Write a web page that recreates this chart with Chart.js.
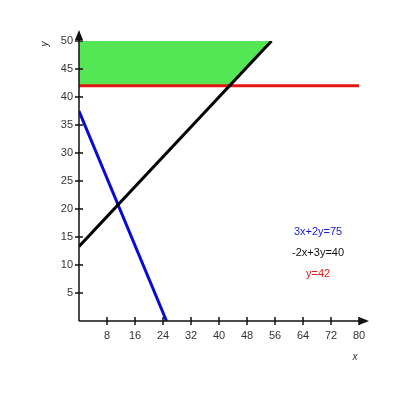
<!DOCTYPE html>
<html><head><meta charset="utf-8">
<script src="https://cdn.jsdelivr.net/npm/chart.js@4/dist/chart.umd.min.js"></script>
<style>html,body{margin:0;padding:0;background:#fff}#wrap{width:400px;height:400px}</style>
</head><body><div id="wrap"><canvas id="c" width="400" height="400"></canvas></div>
<script>
const xTicks = [8,16,24,32,40,48,56,64,72,80];
const yTicks = [5,10,15,20,25,30,35,40,45,50];
// line endpoints (x, y) for each equation
const blueX = [0, 25];      const blueY = [37.5, 0];       // 3x+2y=75
const blackX = [0, 55];     const blackY = [13.33, 50];    // -2x+3y=40
const redX = [0, 80];       const redY = [42, 42];         // y=42
const greenX = [0, 43, 55, 0]; const greenY = [42, 42, 50, 50]; // feasible region
const labels = ['3x+2y=75', '-2x+3y=40', 'y=42'];
const labelColors = ['#1a1ad8', '#111111', '#e01818'];
const labelX = [68.3, 68.3, 68.3];
const labelY = [15.9, 12.1, 8.4];

const pts = (xs, ys) => xs.map((x, i) => ({x, y: ys[i]}));

const axesPlugin = {
  id: 'axes',
  afterDatasetsDraw(chart) {
    const ctx = chart.ctx, xs = chart.scales.x, ys = chart.scales.y;
    const x0 = xs.getPixelForValue(0), y0 = ys.getPixelForValue(0);
    const xEnd = xs.getPixelForValue(80), yTop = ys.getPixelForValue(50);
    ctx.save();
    ctx.strokeStyle = '#111'; ctx.fillStyle = '#111'; ctx.lineWidth = 1.5;
    ctx.beginPath();
    ctx.moveTo(x0, y0); ctx.lineTo(xEnd + 2, y0);
    ctx.moveTo(x0, y0); ctx.lineTo(x0, yTop - 2);
    xTicks.forEach(v => { const p = xs.getPixelForValue(v); ctx.moveTo(p, y0 - 4); ctx.lineTo(p, y0 + 4); });
    yTicks.forEach(v => { const p = ys.getPixelForValue(v); ctx.moveTo(x0 - 4, p); ctx.lineTo(x0 + 4, p); });
    ctx.stroke();
    // arrows
    ctx.beginPath();
    ctx.moveTo(x0, yTop - 11); ctx.lineTo(x0 - 4, yTop - 1); ctx.lineTo(x0 + 4, yTop - 1); ctx.closePath();
    ctx.moveTo(xEnd + 10, y0); ctx.lineTo(xEnd, y0 - 4); ctx.lineTo(xEnd, y0 + 4); ctx.closePath();
    ctx.fill();
    // axis titles
    ctx.fillStyle = '#333';
    ctx.font = 'italic 10px "Liberation Sans", Arial, sans-serif';
    ctx.textAlign = 'center'; ctx.textBaseline = 'middle';
    ctx.fillText('x', xEnd - 4, y0 + 36);
    ctx.translate(x0 - 34, yTop + 3); ctx.rotate(-Math.PI / 2);
    ctx.fillText('y', 0, 0);
    ctx.restore();
    // equation labels
    ctx.save();
    ctx.font = '11px "Liberation Sans", Arial, sans-serif';
    ctx.textAlign = 'center'; ctx.textBaseline = 'middle';
    labels.forEach((t, i) => {
      ctx.fillStyle = labelColors[i];
      ctx.fillText(t, xs.getPixelForValue(labelX[i]), ys.getPixelForValue(labelY[i]));
    });
    ctx.restore();
  }
};

const tickFont = {family: '"Liberation Sans", Arial, sans-serif', size: 11};
new Chart(document.getElementById('c'), {
  type: 'scatter',
  data: {
    datasets: [
      {data: pts(blackX, blackY), showLine: true, borderColor: '#000', borderWidth: 3, pointRadius: 0},
      {data: pts(blueX, blueY), showLine: true, borderColor: '#0a0ad8', borderWidth: 3, pointRadius: 0},
      {data: pts(redX, redY), showLine: true, borderColor: '#e41414', borderWidth: 3, pointRadius: 0},
      {data: pts(greenX, greenY), showLine: true, borderWidth: 0, borderColor: 'rgba(0,0,0,0)', backgroundColor: '#55e655', fill: 'shape', pointRadius: 0}
    ]
  },
  options: {
    responsive: false, animation: false,
    layout: {padding: {left: 0, top: 41, right: 41, bottom: 0}},
    plugins: {legend: {display: false}, tooltip: {enabled: false}},
    scales: {
      x: {
        type: 'linear', min: 0, max: 80,
        afterFit(s) { s.height = 79; },
        afterBuildTicks(s) { s.ticks = xTicks.map(v => ({value: v})); },
        grid: {display: false, drawTicks: false}, border: {display: false},
        ticks: {color: '#333', font: tickFont, padding: 8, maxRotation: 0, autoSkip: false}
      },
      y: {
        type: 'linear', min: 0, max: 50,
        afterFit(s) { s.width = 79; },
        afterBuildTicks(s) { s.ticks = yTicks.map(v => ({value: v})); },
        grid: {display: false, drawTicks: false}, border: {display: false},
        ticks: {color: '#333', font: tickFont, padding: 6, autoSkip: false}
      }
    }
  },
  plugins: [axesPlugin]
});
</script></body></html>
